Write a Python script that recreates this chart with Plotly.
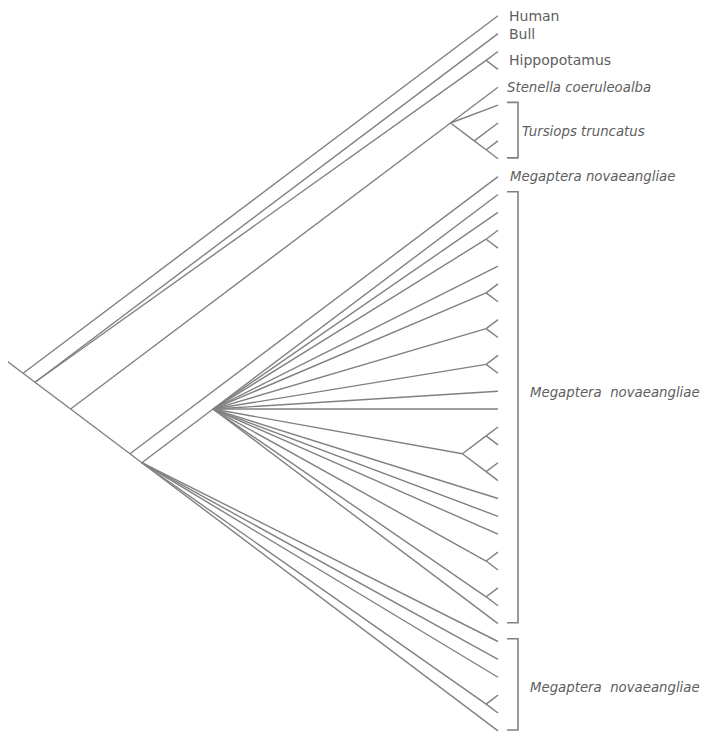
import plotly.graph_objects as go

# ---------------- data ----------------
# leaves are numbered top to bottom (0 .. 40)
n_leaves = 41
# tree topology (nested lists of leaf indices; lists with >2 items are polytomies)
fan_clade = [10, 11, [12, 13], 14, [15, 16], [17, 18], [19, 20], 21, 22,
             [[23, 24], [25, 26]], 27, 28, 29, [30, 31], [32, 33], 34]
megaptera_clade = [9, [fan_clade, 35, 36, 37, [38, 39], 40]]
delphinid_clade = [4, 5, [6, [7, 8]]]
cetacea = [delphinid_clade, megaptera_clade]
tree = [0, [1, [2, 3], cetacea]]

# labels
label_texts = ["Human", "Bull", "Hippopotamus", "Stenella coeruleoalba",
               "Tursiops truncatus", "Megaptera novaeangliae",
               "Megaptera  novaeangliae", "Megaptera  novaeangliae"]
label_first = [0, 1, 2, 4, 5, 9, 10, 35]
label_last = [0, 1, 3, 4, 8, 9, 34, 40]
label_italic = [False, False, False, True, True, True, True, True]
label_bracket = [False, False, False, False, True, False, True, True]
label_pos = [0, 1, 2.5, 4, 6.5, 9, 21.1, 37.6]

# ---------------- styling / geometry ----------------
SLOPE = 0.753          # branch slope (dy/dx) of the slanted cladogram
PX = 17.88             # pixels per leaf step
PAGE_MARGIN = 8        # default body margin of the html page
W, H = 711 - PAGE_MARGIN, 732 - PAGE_MARGIN
LEAF_PX_X = 498 - PAGE_MARGIN    # pixel x of leaf tips (figure coords)
LEAF0_PX_Y = 15.7 - PAGE_MARGIN  # pixel y of first leaf (figure coords)
LINE_COLOR = "#808080"
TEXT_COLOR = "#5e5e5e"
FONT = "DejaVu Sans, Verdana, sans-serif"

xs, ys = [], []


def place(node):
    if isinstance(node, int):
        return node, node, 0.0, float(node)
    kids = [place(c) for c in node]
    lo = min(k[0] for k in kids)
    hi = max(k[1] for k in kids)
    y = (lo + hi) / 2.0
    x = -(hi - lo) / 2.0 / SLOPE
    for k in kids:
        xs.extend([x, k[2], None])
        ys.extend([y, k[3], None])
    return lo, hi, x, y


root = place(tree)
# root stub
xs.extend([root[2], root[2] - 1.0, None])
ys.extend([root[3], root[3] - SLOPE * 1.0, None])

fig = go.Figure()
fig.add_trace(go.Scatter(x=xs, y=ys, mode="lines",
                         line=dict(color=LINE_COLOR, width=1.4),
                         hoverinfo="skip", showlegend=False))

# brackets
bx_tick = 9 / PX
bx_vert = 20 / PX
for t, a, b, br in zip(label_texts, label_first, label_last, label_bracket):
    if not br:
        continue
    top, bot = a - 0.15, b - 0.05
    fig.add_trace(go.Scatter(x=[bx_tick, bx_vert, bx_vert, bx_tick],
                             y=[top, top, bot, bot], mode="lines",
                             line=dict(color=LINE_COLOR, width=1.6),
                             hoverinfo="skip", showlegend=False))

label_shift = [9, 9, 9, 7, 22, 10, 30, 30]
annotations = []
for t, pos, it, sh in zip(label_texts, label_pos, label_italic, label_shift):
    annotations.append(dict(
        x=0, y=pos, xref="x", yref="y", xanchor="left", yanchor="middle",
        xshift=sh, text=f"<i>{t}</i>" if it else t, showarrow=False,
        font=dict(family=FONT, size=13.3 if it else 14, color=TEXT_COLOR)))

fig.update_layout(
    width=W, height=H, margin=dict(l=0, r=0, t=0, b=0),
    paper_bgcolor="white", plot_bgcolor="white",
    xaxis=dict(range=[-LEAF_PX_X / PX, (W - LEAF_PX_X) / PX], visible=False,
               fixedrange=True),
    yaxis=dict(range=[(H - LEAF0_PX_Y) / PX, -LEAF0_PX_Y / PX], visible=False,
               fixedrange=True),
    annotations=annotations,
)

fig.write_html("out.html")
